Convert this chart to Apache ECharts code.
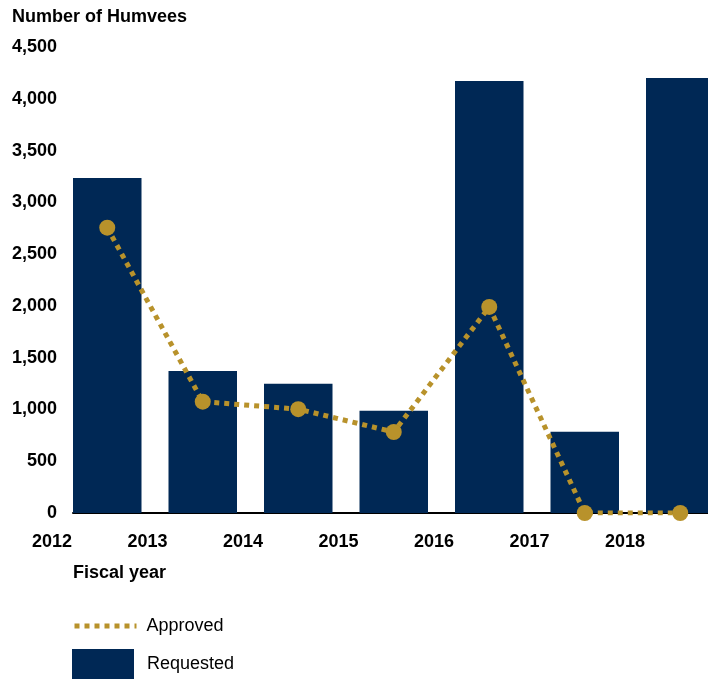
<!DOCTYPE html>
<html>
<head>
    <meta charset="utf-8"/>
    <style>
        body, html {
            width: 100%;
            height: 100%;
            margin: 0;
            background: #fff;
        }
        #chart {
            width: 708px;
            height: 679px;
        }
    </style>
    <script src="https://cdn.jsdelivr.net/npm/echarts@6/dist/echarts.min.js"></script>
    <title>Humvees</title>
</head>
<body>
<div id="chart"></div>
<script>
    // one bar per fiscal year period, labels sit on the year boundaries
    var periods = ['FY2012-13', 'FY2013-14', 'FY2014-15', 'FY2015-16', 'FY2016-17', 'FY2017-18', 'FY2018-19'];
    var yearLabels = ['2012', '2013', '2014', '2015', '2016', '2017', '2018'];
    var requested = [3235, 1372, 1248, 988, 4172, 785, 4200];
    var approved = [2755, 1075, 1003, 782, 1990, 0, 0];

    var navy = '#002855';
    var gold = '#B8922B';
    var font = '"Liberation Sans", Arial, sans-serif';

    var chart = echarts.init(document.getElementById('chart'));

    var option = {
        animation: false,
        textStyle: {fontFamily: font},
        title: [
            {
                text: 'Number of Humvees', left: 12, top: 8, padding: 0,
                textStyle: {fontSize: 18, fontWeight: 'bold', color: '#000', fontFamily: font}
            },
            {
                text: 'Fiscal year', left: 73, top: 564, padding: 0,
                textStyle: {fontSize: 18, fontWeight: 'bold', color: '#000', fontFamily: font}
            }
        ],
        legend: [
            {
                data: ['Approved'], left: 72, top: 617, padding: 0,
                itemWidth: 62, itemHeight: 20,
                itemStyle: {color: 'rgba(0,0,0,0)', borderWidth: 0},
                lineStyle: {color: gold, width: 5, type: [5, 5], cap: 'butt'},
                textStyle: {fontSize: 18, color: '#000', padding: [0, 0, 0, 5]}
            },
            {
                data: ['Requested'], left: 72, top: 649, padding: 0,
                itemWidth: 62, itemHeight: 31, icon: 'rect',
                textStyle: {fontSize: 18, color: '#000', padding: [0, 0, 0, 8]}
            }
        ],
        grid: [
            // bars + line; the last bar runs off the right edge
            {left: 59.5, width: 668.5, top: 47, bottom: 166, outerBoundsMode: 'none', containLabel: false},
            {left: 52, right: 83, top: 47, bottom: 166, outerBoundsMode: 'none'},   // year labels
            {left: 73, right: 0, top: 47, bottom: 166, outerBoundsMode: 'none'}     // axis line + y labels
        ],
        xAxis: [
            {
                gridIndex: 0, type: 'category', data: periods,
                axisLine: {show: false}, axisTick: {show: false}, axisLabel: {show: false}
            },
            {
                gridIndex: 1, type: 'category', data: yearLabels, boundaryGap: false,
                axisLine: {show: false}, axisTick: {show: false},
                axisLabel: {interval: 0, margin: 20, fontSize: 18, fontWeight: 'bold', color: '#000'}
            },
            {
                gridIndex: 2, type: 'value', min: 0, max: 1,
                axisLine: {show: true, lineStyle: {color: '#000', width: 2}},
                axisTick: {show: false}, axisLabel: {show: false}, splitLine: {show: false}
            }
        ],
        yAxis: [
            {gridIndex: 0, type: 'value', min: 0, max: 4500, interval: 500, show: false},
            {gridIndex: 1, type: 'value', min: 0, max: 4500, show: false},
            {
                gridIndex: 2, type: 'value', min: 0, max: 4500, interval: 500,
                axisLine: {show: false}, axisTick: {show: false}, splitLine: {show: false},
                axisLabel: {
                    margin: 16, fontSize: 18, fontWeight: 'bold', color: '#000',
                    formatter: function (v) {
                        return v.toLocaleString('en-US');
                    }
                }
            }
        ],
        series: [
            {
                name: 'Requested', type: 'bar', xAxisIndex: 0, yAxisIndex: 0,
                data: requested, barWidth: 68.5,
                itemStyle: {color: navy}
            },
            {
                name: 'Approved', type: 'line', xAxisIndex: 0, yAxisIndex: 0,
                data: approved, z: 5,
                symbol: 'circle', symbolSize: 16,
                itemStyle: {color: gold},
                lineStyle: {color: gold, width: 5, type: [5, 5], cap: 'butt'}
            }
        ]
    };
    chart.setOption(option);
</script>
</body>
</html>
